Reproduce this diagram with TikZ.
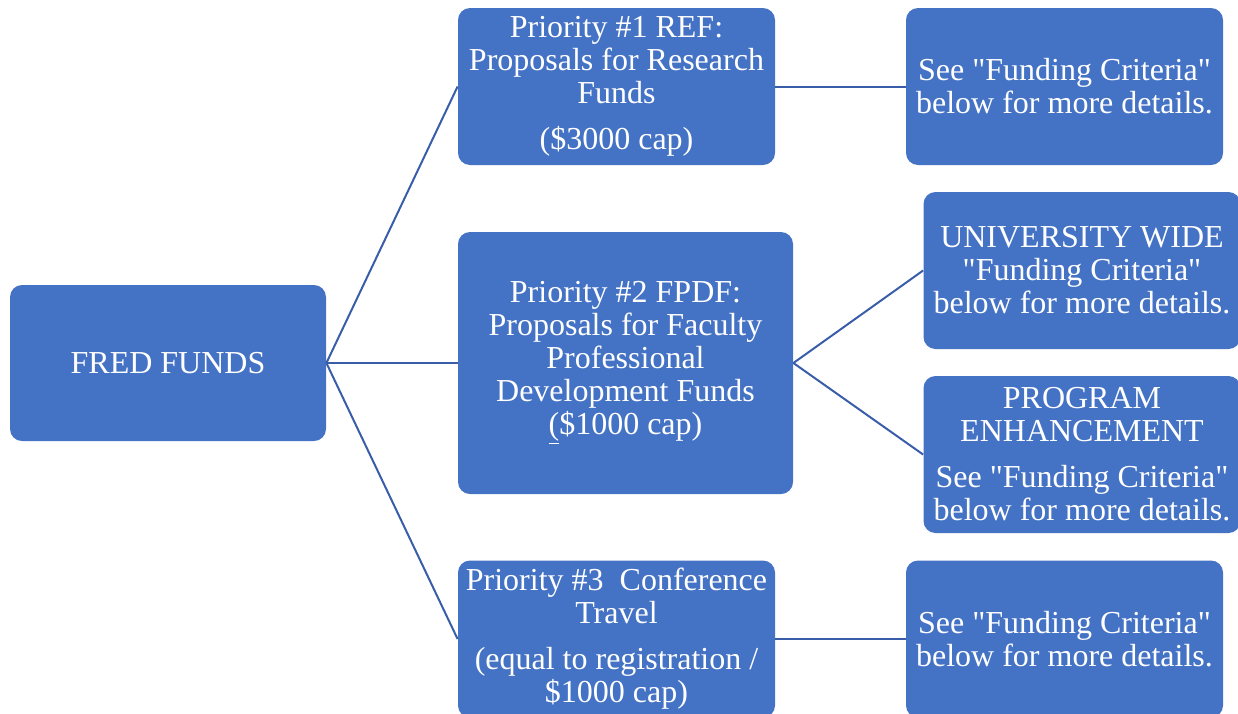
\documentclass[tikz,border=0pt]{standalone}
\usepackage{fontspec}
\setmainfont{Liberation Serif}[Ligatures=TeXOff]
\usetikzlibrary{positioning}
\definecolor{boxblue}{HTML}{4472C4}
\definecolor{linkblue}{HTML}{3A5DAA}
\tikzset{%
	box/.style = {name = #1, rectangle, rounded corners = 6pt, fill = boxblue, text = white, align = center, inner sep = 1pt, font = \fontsize{16}{16.5}\selectfont},
	card/.style = {box = #1, minimum width = 158.5pt, minimum height = 78.5pt},
	every edge/.append style = {draw = linkblue, line width = 1pt}
}

\begin{document}
\begin{tikzpicture}[x=0.5pt, y=-0.5pt]
	\useasboundingbox (0,0) rectangle (1238,713);
	\clip (0,0) rectangle (1238,713);
	% root and the three priorities
	\node [box = fred, minimum width = 158pt, minimum height = 78pt] at (168,363) {FRED FUNDS};
	\node [card = pone] at (616.5,86.5) {Priority \#1 REF:\\Proposals for Research\\Funds\\[6.5pt](\$3000 cap)};
	\node [box = ptwo, minimum width = 167.5pt, minimum height = 131pt] at (625.5,363) {Priority \#2 FPDF:\\Proposals for Faculty\\Professional\\Development Funds\\\underline{(}\$1000 cap)};
	\node [card = pthree] at (616.5,639) {Priority \#3\ \ Conference\\Travel\\[6.5pt](equal to registration /\\\$1000 cap)};
	% details on the right
	\node [card = rone] at (1064.5,86.5) {See "Funding Criteria"\\below for more details.};
	\node [card = univ] at (1082,270.5) {UNIVERSITY WIDE\\"Funding Criteria"\\below for more details.};
	\node [card = prog] at (1082,454.5) {PROGRAM\\ENHANCEMENT\\[6.5pt]See "Funding Criteria"\\below for more details.};
	\node [card = rthree] at (1064.5,639) {See "Funding Criteria"\\below for more details.};
	\path (fred.east) edge (pone.west);
	\path (fred.east) edge (ptwo.west);
	\path (fred.east) edge (pthree.west);
	\path (pone.east) edge (rone.west);
	\path (ptwo.east) edge (univ.west);
	\path (ptwo.east) edge (prog.west);
	\path (pthree.east) edge (rthree.west);
\end{tikzpicture}
\end{document}
